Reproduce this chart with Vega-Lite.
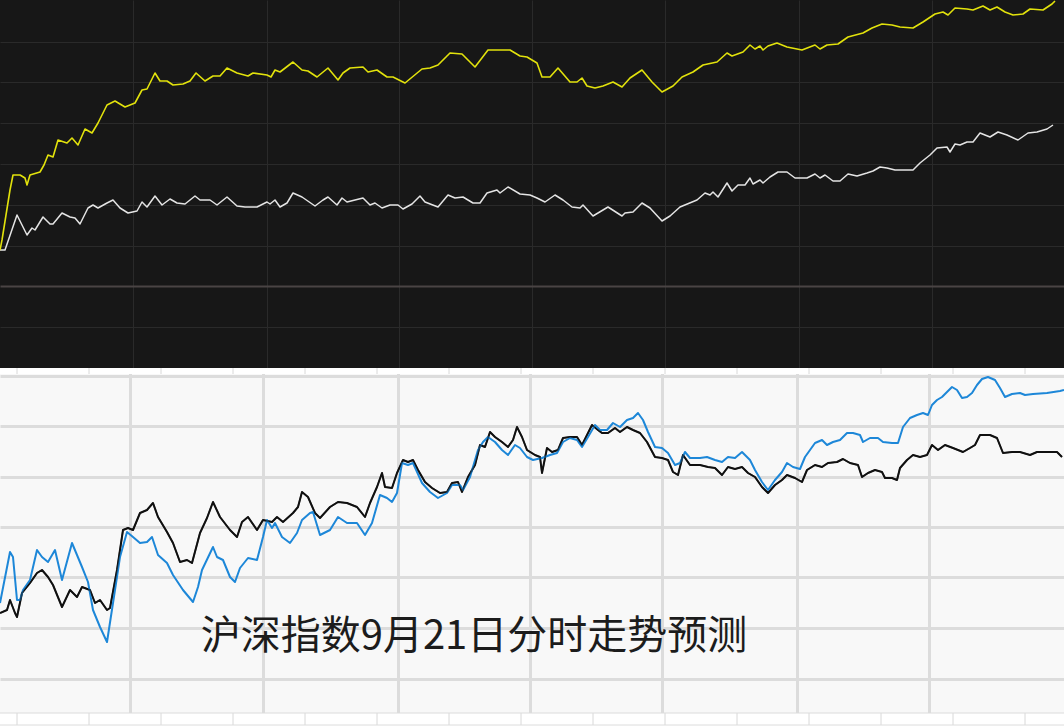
{
  "$schema": "https://vega.github.io/schema/vega-lite/v6.json",
  "padding": 0,
  "spacing": 0,
  "background": "#ffffff",
  "config": {
    "view": {"stroke": null},
    "axis": {"labels": false, "ticks": false, "domain": false, "grid": true, "minExtent": 0, "maxExtent": 0, "offset": 0}
  },
  "datasets": {
    "yellow": [
      {"t":0,"v":118},{"t":2,"v":128},{"t":6,"v":153},{"t":10,"v":178},{"t":13,"v":193},{"t":20,"v":193},{"t":25,"v":190},{"t":27,"v":183},{"t":30,"v":193},{"t":40,"v":196},{"t":44,"v":203},{"t":48,"v":213},{"t":53,"v":211},{"t":58,"v":228},{"t":67,"v":225},{"t":72,"v":230},{"t":78,"v":223},{"t":85,"v":239},{"t":92,"v":235},{"t":98,"v":245},{"t":107,"v":263},{"t":115,"v":267},{"t":125,"v":261},{"t":135,"v":265},{"t":142,"v":278},{"t":147,"v":279},{"t":155,"v":295},{"t":160,"v":287},{"t":167,"v":287},{"t":173,"v":283},{"t":183,"v":284},{"t":190,"v":287},{"t":196,"v":295},{"t":205,"v":287},{"t":213,"v":292},{"t":220,"v":292},{"t":227,"v":300},{"t":237,"v":295},{"t":248,"v":292},{"t":253,"v":295},{"t":267,"v":293},{"t":271,"v":291},{"t":275,"v":298},{"t":280,"v":296},{"t":293,"v":306},{"t":302,"v":298},{"t":308,"v":297},{"t":317,"v":291},{"t":328,"v":300},{"t":338,"v":288},{"t":343,"v":295},{"t":350,"v":300},{"t":363,"v":301},{"t":368,"v":296},{"t":377,"v":298},{"t":387,"v":291},{"t":393,"v":291},{"t":405,"v":285},{"t":422,"v":299},{"t":430,"v":300},{"t":438,"v":303},{"t":450,"v":315},{"t":462,"v":314},{"t":475,"v":301},{"t":488,"v":318},{"t":510,"v":318},{"t":520,"v":312},{"t":527,"v":311},{"t":537,"v":305},{"t":542,"v":291},{"t":550,"v":291},{"t":558,"v":300},{"t":570,"v":286},{"t":577,"v":286},{"t":582,"v":290},{"t":587,"v":282},{"t":595,"v":280},{"t":603,"v":282},{"t":613,"v":286},{"t":622,"v":281},{"t":630,"v":290},{"t":642,"v":298},{"t":652,"v":286},{"t":662,"v":276},{"t":673,"v":282},{"t":682,"v":291},{"t":693,"v":296},{"t":703,"v":303},{"t":717,"v":306},{"t":727,"v":315},{"t":732,"v":312},{"t":743,"v":316},{"t":750,"v":323},{"t":755,"v":319},{"t":760,"v":322},{"t":763,"v":318},{"t":768,"v":322},{"t":777,"v":325},{"t":787,"v":321},{"t":802,"v":318},{"t":815,"v":323},{"t":820,"v":319},{"t":827,"v":323},{"t":838,"v":324},{"t":848,"v":331},{"t":863,"v":335},{"t":872,"v":340},{"t":882,"v":344},{"t":892,"v":343},{"t":900,"v":341},{"t":913,"v":340},{"t":923,"v":346},{"t":935,"v":354},{"t":943,"v":356},{"t":948,"v":353},{"t":955,"v":360},{"t":967,"v":359},{"t":973,"v":358},{"t":983,"v":362},{"t":990,"v":358},{"t":997,"v":361},{"t":1005,"v":356},{"t":1013,"v":353},{"t":1023,"v":354},{"t":1030,"v":359},{"t":1043,"v":358},{"t":1052,"v":364},{"t":1055,"v":367}
    ],
    "white": [
      {"t":0,"v":118},{"t":5,"v":118},{"t":17,"v":153},{"t":27,"v":133},{"t":32,"v":140},{"t":35,"v":138},{"t":43,"v":151},{"t":50,"v":144},{"t":53,"v":144},{"t":62,"v":155},{"t":70,"v":151},{"t":75,"v":150},{"t":80,"v":144},{"t":88,"v":160},{"t":93,"v":163},{"t":98,"v":160},{"t":107,"v":165},{"t":113,"v":168},{"t":120,"v":160},{"t":128,"v":155},{"t":137,"v":157},{"t":142,"v":166},{"t":147,"v":161},{"t":155,"v":172},{"t":162,"v":163},{"t":170,"v":169},{"t":177,"v":165},{"t":185,"v":164},{"t":195,"v":172},{"t":200,"v":168},{"t":210,"v":168},{"t":217,"v":163},{"t":227,"v":171},{"t":237,"v":162},{"t":245,"v":161},{"t":257,"v":161},{"t":267,"v":166},{"t":270,"v":164},{"t":275,"v":168},{"t":280,"v":161},{"t":287,"v":165},{"t":293,"v":175},{"t":302,"v":171},{"t":315,"v":162},{"t":323,"v":168},{"t":328,"v":171},{"t":337,"v":163},{"t":342,"v":170},{"t":347,"v":166},{"t":363,"v":170},{"t":370,"v":163},{"t":375,"v":165},{"t":382,"v":160},{"t":390,"v":163},{"t":398,"v":163},{"t":403,"v":159},{"t":412,"v":164},{"t":420,"v":172},{"t":425,"v":166},{"t":438,"v":161},{"t":448,"v":173},{"t":455,"v":170},{"t":463,"v":171},{"t":473,"v":165},{"t":480,"v":165},{"t":487,"v":175},{"t":497,"v":178},{"t":500,"v":175},{"t":508,"v":181},{"t":520,"v":174},{"t":530,"v":173},{"t":537,"v":170},{"t":545,"v":166},{"t":555,"v":173},{"t":563,"v":168},{"t":572,"v":161},{"t":580,"v":160},{"t":583,"v":163},{"t":593,"v":152},{"t":608,"v":161},{"t":622,"v":152},{"t":625,"v":155},{"t":633,"v":156},{"t":642,"v":165},{"t":650,"v":160},{"t":662,"v":147},{"t":670,"v":152},{"t":680,"v":161},{"t":697,"v":168},{"t":705,"v":175},{"t":710,"v":173},{"t":713,"v":176},{"t":718,"v":171},{"t":727,"v":185},{"t":732,"v":177},{"t":738,"v":183},{"t":745,"v":183},{"t":750,"v":190},{"t":753,"v":184},{"t":760,"v":188},{"t":763,"v":185},{"t":770,"v":191},{"t":778,"v":196},{"t":787,"v":196},{"t":795,"v":190},{"t":807,"v":190},{"t":815,"v":194},{"t":820,"v":190},{"t":825,"v":193},{"t":833,"v":187},{"t":840,"v":187},{"t":848,"v":194},{"t":857,"v":192},{"t":867,"v":195},{"t":873,"v":197},{"t":880,"v":201},{"t":887,"v":200},{"t":895,"v":198},{"t":913,"v":198},{"t":920,"v":205},{"t":930,"v":213},{"t":937,"v":220},{"t":947,"v":221},{"t":950,"v":216},{"t":955,"v":224},{"t":960,"v":223},{"t":967,"v":226},{"t":973,"v":226},{"t":980,"v":235},{"t":990,"v":231},{"t":998,"v":236},{"t":1007,"v":233},{"t":1018,"v":228},{"t":1028,"v":235},{"t":1037,"v":236},{"t":1047,"v":239},{"t":1053,"v":243}
    ],
    "blue": [
      {"t":0,"v":125},{"t":10,"v":176},{"t":13,"v":171},{"t":17,"v":128},{"t":20,"v":128},{"t":23,"v":138},{"t":30,"v":148},{"t":37,"v":178},{"t":42,"v":171},{"t":48,"v":166},{"t":55,"v":178},{"t":62,"v":148},{"t":72,"v":185},{"t":82,"v":161},{"t":88,"v":146},{"t":93,"v":118},{"t":100,"v":101},{"t":107,"v":86},{"t":113,"v":125},{"t":120,"v":171},{"t":127,"v":196},{"t":133,"v":191},{"t":140,"v":185},{"t":147,"v":186},{"t":152,"v":191},{"t":158,"v":173},{"t":167,"v":165},{"t":173,"v":153},{"t":183,"v":138},{"t":193,"v":126},{"t":198,"v":141},{"t":202,"v":158},{"t":213,"v":181},{"t":217,"v":171},{"t":223,"v":168},{"t":230,"v":151},{"t":235,"v":146},{"t":240,"v":160},{"t":248,"v":170},{"t":257,"v":168},{"t":263,"v":191},{"t":267,"v":208},{"t":272,"v":200},{"t":275,"v":205},{"t":282,"v":191},{"t":290,"v":185},{"t":297,"v":195},{"t":302,"v":208},{"t":310,"v":215},{"t":313,"v":216},{"t":320,"v":193},{"t":330,"v":198},{"t":338,"v":211},{"t":347,"v":205},{"t":357,"v":205},{"t":365,"v":193},{"t":372,"v":205},{"t":380,"v":233},{"t":387,"v":230},{"t":392,"v":226},{"t":397,"v":235},{"t":402,"v":265},{"t":408,"v":263},{"t":413,"v":265},{"t":422,"v":245},{"t":430,"v":236},{"t":438,"v":230},{"t":447,"v":235},{"t":452,"v":243},{"t":460,"v":243},{"t":463,"v":238},{"t":470,"v":251},{"t":478,"v":278},{"t":483,"v":286},{"t":488,"v":291},{"t":495,"v":286},{"t":502,"v":278},{"t":508,"v":273},{"t":515,"v":283},{"t":520,"v":280},{"t":527,"v":271},{"t":533,"v":268},{"t":542,"v":270},{"t":550,"v":273},{"t":557,"v":275},{"t":563,"v":286},{"t":570,"v":290},{"t":577,"v":288},{"t":582,"v":281},{"t":588,"v":291},{"t":595,"v":303},{"t":600,"v":298},{"t":607,"v":298},{"t":613,"v":305},{"t":620,"v":301},{"t":627,"v":308},{"t":633,"v":310},{"t":638,"v":315},{"t":643,"v":308},{"t":648,"v":296},{"t":655,"v":281},{"t":662,"v":280},{"t":668,"v":275},{"t":675,"v":263},{"t":680,"v":265},{"t":685,"v":276},{"t":690,"v":270},{"t":700,"v":270},{"t":707,"v":271},{"t":715,"v":268},{"t":722,"v":266},{"t":728,"v":271},{"t":735,"v":270},{"t":742,"v":276},{"t":750,"v":268},{"t":755,"v":258},{"t":762,"v":246},{"t":768,"v":238},{"t":775,"v":248},{"t":782,"v":256},{"t":787,"v":265},{"t":793,"v":261},{"t":800,"v":259},{"t":805,"v":271},{"t":810,"v":278},{"t":815,"v":285},{"t":822,"v":288},{"t":827,"v":283},{"t":833,"v":286},{"t":840,"v":288},{"t":847,"v":295},{"t":853,"v":295},{"t":860,"v":293},{"t":863,"v":286},{"t":870,"v":290},{"t":878,"v":290},{"t":883,"v":286},{"t":892,"v":285},{"t":898,"v":285},{"t":903,"v":301},{"t":910,"v":310},{"t":917,"v":313},{"t":923,"v":315},{"t":928,"v":313},{"t":932,"v":323},{"t":937,"v":328},{"t":942,"v":331},{"t":947,"v":336},{"t":952,"v":341},{"t":957,"v":338},{"t":962,"v":330},{"t":967,"v":331},{"t":972,"v":335},{"t":977,"v":343},{"t":982,"v":349},{"t":988,"v":351},{"t":995,"v":348},{"t":1000,"v":340},{"t":1005,"v":331},{"t":1012,"v":334},{"t":1020,"v":335},{"t":1025,"v":333},{"t":1033,"v":334},{"t":1047,"v":335},{"t":1060,"v":337},{"t":1064,"v":338}
    ],
    "black": [
      {"t":0,"v":115},{"t":7,"v":118},{"t":10,"v":128},{"t":15,"v":115},{"t":17,"v":111},{"t":22,"v":135},{"t":30,"v":145},{"t":37,"v":155},{"t":42,"v":158},{"t":48,"v":151},{"t":53,"v":143},{"t":62,"v":121},{"t":70,"v":138},{"t":77,"v":131},{"t":82,"v":141},{"t":90,"v":138},{"t":95,"v":125},{"t":100,"v":128},{"t":107,"v":118},{"t":110,"v":120},{"t":117,"v":158},{"t":123,"v":198},{"t":128,"v":200},{"t":133,"v":198},{"t":140,"v":215},{"t":147,"v":218},{"t":153,"v":225},{"t":158,"v":211},{"t":167,"v":196},{"t":173,"v":185},{"t":180,"v":166},{"t":187,"v":168},{"t":192,"v":165},{"t":200,"v":195},{"t":207,"v":210},{"t":213,"v":226},{"t":220,"v":211},{"t":230,"v":198},{"t":237,"v":191},{"t":242,"v":206},{"t":248,"v":211},{"t":257,"v":198},{"t":263,"v":208},{"t":272,"v":206},{"t":277,"v":211},{"t":283,"v":206},{"t":293,"v":215},{"t":298,"v":221},{"t":302,"v":236},{"t":308,"v":231},{"t":315,"v":215},{"t":320,"v":210},{"t":330,"v":221},{"t":338,"v":226},{"t":347,"v":225},{"t":357,"v":221},{"t":365,"v":211},{"t":370,"v":225},{"t":377,"v":241},{"t":382,"v":255},{"t":385,"v":241},{"t":392,"v":240},{"t":397,"v":255},{"t":403,"v":268},{"t":408,"v":266},{"t":413,"v":268},{"t":418,"v":258},{"t":425,"v":246},{"t":432,"v":240},{"t":440,"v":235},{"t":447,"v":236},{"t":452,"v":245},{"t":458,"v":246},{"t":462,"v":236},{"t":468,"v":251},{"t":475,"v":263},{"t":480,"v":283},{"t":485,"v":281},{"t":490,"v":296},{"t":495,"v":291},{"t":502,"v":286},{"t":508,"v":281},{"t":513,"v":288},{"t":517,"v":301},{"t":522,"v":291},{"t":527,"v":278},{"t":535,"v":273},{"t":540,"v":271},{"t":542,"v":255},{"t":547,"v":280},{"t":552,"v":276},{"t":558,"v":278},{"t":563,"v":290},{"t":570,"v":291},{"t":577,"v":291},{"t":582,"v":283},{"t":587,"v":293},{"t":592,"v":303},{"t":598,"v":298},{"t":602,"v":295},{"t":608,"v":295},{"t":615,"v":300},{"t":620,"v":296},{"t":627,"v":301},{"t":633,"v":298},{"t":640,"v":295},{"t":647,"v":286},{"t":655,"v":271},{"t":662,"v":270},{"t":668,"v":268},{"t":673,"v":256},{"t":678,"v":253},{"t":683,"v":273},{"t":690,"v":263},{"t":700,"v":263},{"t":708,"v":261},{"t":715,"v":260},{"t":722,"v":253},{"t":728,"v":261},{"t":735,"v":259},{"t":742,"v":261},{"t":748,"v":255},{"t":755,"v":251},{"t":762,"v":241},{"t":768,"v":235},{"t":775,"v":243},{"t":782,"v":248},{"t":787,"v":253},{"t":795,"v":250},{"t":802,"v":246},{"t":807,"v":258},{"t":815,"v":263},{"t":822,"v":261},{"t":828,"v":265},{"t":837,"v":266},{"t":843,"v":269},{"t":850,"v":265},{"t":858,"v":263},{"t":862,"v":251},{"t":868,"v":255},{"t":875,"v":258},{"t":882,"v":256},{"t":885,"v":250},{"t":892,"v":250},{"t":897,"v":248},{"t":900,"v":260},{"t":907,"v":268},{"t":913,"v":273},{"t":920,"v":271},{"t":927,"v":273},{"t":932,"v":283},{"t":938,"v":278},{"t":945,"v":283},{"t":953,"v":280},{"t":963,"v":276},{"t":970,"v":280},{"t":975,"v":283},{"t":980,"v":293},{"t":990,"v":293},{"t":997,"v":290},{"t":1003,"v":275},{"t":1012,"v":276},{"t":1020,"v":276},{"t":1030,"v":273},{"t":1037,"v":276},{"t":1047,"v":276},{"t":1057,"v":276},{"t":1062,"v":271}
    ],
    "ticks": [
      {"t":17},{"t":89},{"t":161},{"t":233},{"t":305},{"t":377},{"t":449},{"t":521},{"t":593},{"t":665},{"t":737},{"t":809},{"t":881},{"t":953},{"t":1025}
    ]
  },
  "vconcat": [
    {
      "width": 1064,
      "height": 368,
      "view": {"fill": "#171717", "stroke": null},
      "encoding": {
        "x": {"field": "t", "type": "quantitative", "title": null,
              "scale": {"domain": [0, 1064], "nice": false, "zero": false},
              "axis": {"values": [133, 267, 399, 532, 665, 799, 932], "gridColor": "#2a2a2a", "gridWidth": 1}},
        "y": {"field": "v", "type": "quantitative", "title": null,
              "scale": {"domain": [0, 368], "nice": false, "zero": false},
              "axis": {"values": [41, 82, 122, 163, 204, 245, 286, 326],
                       "gridColor": {"condition": {"test": "datum.value === 82", "value": "#4a4444"}, "value": "#2a2a2a"},
                       "gridWidth": {"condition": {"test": "datum.value === 82", "value": 2}, "value": 1}}}
      },
      "layer": [
        {"data": {"name": "white"}, "mark": {"type": "line", "color": "#e4e4e4", "strokeWidth": 1.5, "clip": true, "strokeJoin": "round"}},
        {"data": {"name": "yellow"}, "mark": {"type": "line", "color": "#e2e20c", "strokeWidth": 1.6, "clip": true, "strokeJoin": "round"}}
      ]
    },
    {
      "width": 1064,
      "height": 360,
      "view": {"fill": "#f8f8f8", "stroke": null},
      "layer": [
        {
          "data": {"values": [{}]},
          "mark": {"type": "rect", "color": "#ffffff", "clip": true},
          "encoding": {
            "x": {"datum": 0, "type": "quantitative", "title": null, "scale": {"domain": [0, 1064], "nice": false, "zero": false}, "axis": {"values": [130, 263, 398, 530, 662, 797, 929], "gridColor": "#dcdcdc", "gridWidth": 3}},
            "x2": {"datum": 1064},
            "y": {"datum": 0, "type": "quantitative", "title": null, "scale": {"domain": [0, 360], "nice": false, "zero": false}, "axis": {"values": [49, 100, 151, 201, 251, 302, 352], "gridColor": "#dcdcdc", "gridWidth": 3}},
            "y2": {"datum": 15}
          }
        },
        {
          "data": {"values": [{}]},
          "mark": {"type": "rect", "color": "#ffffff", "clip": true},
          "encoding": {
            "x": {"datum": 0, "type": "quantitative", "title": null, "scale": {"domain": [0, 1064], "nice": false, "zero": false}, "axis": {"values": [130, 263, 398, 530, 662, 797, 929], "gridColor": "#dcdcdc", "gridWidth": 3}},
            "x2": {"datum": 1064},
            "y": {"datum": 354, "type": "quantitative", "title": null, "scale": {"domain": [0, 360], "nice": false, "zero": false}, "axis": {"values": [49, 100, 151, 201, 251, 302, 352], "gridColor": "#dcdcdc", "gridWidth": 3}},
            "y2": {"datum": 360}
          }
        },
        {
          "data": {"name": "ticks"},
          "mark": {"type": "rule", "color": "#d8d8d8", "strokeWidth": 1, "clip": true},
          "encoding": {
            "x": {"field": "t", "type": "quantitative", "title": null, "scale": {"domain": [0, 1064], "nice": false, "zero": false}, "axis": {"values": [130, 263, 398, 530, 662, 797, 929], "gridColor": "#dcdcdc", "gridWidth": 3}},
            "y": {"datum": 3, "type": "quantitative", "title": null, "scale": {"domain": [0, 360], "nice": false, "zero": false}, "axis": {"values": [49, 100, 151, 201, 251, 302, 352], "gridColor": "#dcdcdc", "gridWidth": 3}},
            "y2": {"datum": 15}
          }
        },
        {
          "data": {"name": "ticks"},
          "mark": {"type": "rule", "color": "#d8d8d8", "strokeWidth": 1, "clip": true},
          "encoding": {
            "x": {"field": "t", "type": "quantitative", "title": null, "scale": {"domain": [0, 1064], "nice": false, "zero": false}, "axis": {"values": [130, 263, 398, 530, 662, 797, 929], "gridColor": "#dcdcdc", "gridWidth": 3}},
            "y": {"datum": 354, "type": "quantitative", "title": null, "scale": {"domain": [0, 360], "nice": false, "zero": false}, "axis": {"values": [49, 100, 151, 201, 251, 302, 352], "gridColor": "#dcdcdc", "gridWidth": 3}},
            "y2": {"datum": 360}
          }
        },
        {
          "data": {"values": [{"level": 3}, {"level": 15}]},
          "mark": {"type": "rule", "color": "#dcdcdc", "strokeWidth": 1, "clip": true},
          "encoding": {
            "x": {"datum": 0, "type": "quantitative", "title": null, "scale": {"domain": [0, 1064], "nice": false, "zero": false}, "axis": {"values": [130, 263, 398, 530, 662, 797, 929], "gridColor": "#dcdcdc", "gridWidth": 3}},
            "x2": {"datum": 1064},
            "y": {"field": "level", "type": "quantitative", "title": null, "scale": {"domain": [0, 360], "nice": false, "zero": false}, "axis": {"values": [49, 100, 151, 201, 251, 302, 352], "gridColor": "#dcdcdc", "gridWidth": 3}}
          }
        },
        {
          "data": {"name": "black"},
          "mark": {"type": "line", "color": "#111111", "strokeWidth": 2, "clip": true, "strokeJoin": "round"},
          "encoding": {
            "x": {"field": "t", "type": "quantitative", "title": null, "scale": {"domain": [0, 1064], "nice": false, "zero": false}, "axis": {"values": [130, 263, 398, 530, 662, 797, 929], "gridColor": "#dcdcdc", "gridWidth": 3}},
            "y": {"field": "v", "type": "quantitative", "title": null, "scale": {"domain": [0, 360], "nice": false, "zero": false}, "axis": {"values": [49, 100, 151, 201, 251, 302, 352], "gridColor": "#dcdcdc", "gridWidth": 3}}
          }
        },
        {
          "data": {"name": "blue"},
          "mark": {"type": "line", "color": "#1d87d8", "strokeWidth": 2, "clip": true, "strokeJoin": "round"},
          "encoding": {
            "x": {"field": "t", "type": "quantitative", "title": null, "scale": {"domain": [0, 1064], "nice": false, "zero": false}, "axis": {"values": [130, 263, 398, 530, 662, 797, 929], "gridColor": "#dcdcdc", "gridWidth": 3}},
            "y": {"field": "v", "type": "quantitative", "title": null, "scale": {"domain": [0, 360], "nice": false, "zero": false}, "axis": {"values": [49, 100, 151, 201, 251, 302, 352], "gridColor": "#dcdcdc", "gridWidth": 3}}
          }
        },
        {
          "data": {"name": "black"},
          "mark": {"type": "line", "color": "#111111", "strokeWidth": 1.6, "opacity": 0.6, "clip": true, "strokeJoin": "round"},
          "encoding": {
            "x": {"field": "t", "type": "quantitative", "title": null, "scale": {"domain": [0, 1064], "nice": false, "zero": false}, "axis": {"values": [130, 263, 398, 530, 662, 797, 929], "gridColor": "#dcdcdc", "gridWidth": 3}},
            "y": {"field": "v", "type": "quantitative", "title": null, "scale": {"domain": [0, 360], "nice": false, "zero": false}, "axis": {"values": [49, 100, 151, 201, 251, 302, 352], "gridColor": "#dcdcdc", "gridWidth": 3}}
          }
        },
        {
          "data": {"values": [{}]},
          "mark": {"type": "text", "text": "沪深指数9月21日分时走势预测", "font": "Noto Sans CJK SC", "fontSize": 40, "color": "#1c1c1c", "align": "center", "baseline": "middle"},
          "encoding": {
            "x": {"datum": 474, "type": "quantitative", "title": null, "scale": {"domain": [0, 1064], "nice": false, "zero": false}, "axis": {"values": [130, 263, 398, 530, 662, 797, 929], "gridColor": "#dcdcdc", "gridWidth": 3}},
            "y": {"datum": 91, "type": "quantitative", "title": null, "scale": {"domain": [0, 360], "nice": false, "zero": false}, "axis": {"values": [49, 100, 151, 201, 251, 302, 352], "gridColor": "#dcdcdc", "gridWidth": 3}}
          }
        }
      ]
    }
  ]
}
